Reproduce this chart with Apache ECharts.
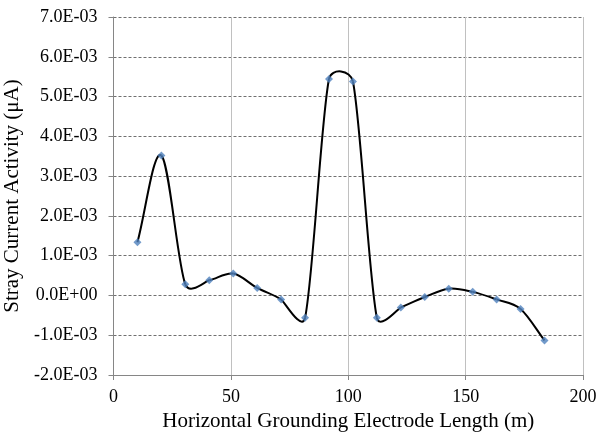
<!DOCTYPE html>
<html><head><meta charset="utf-8">
<script src="https://cdn.jsdelivr.net/npm/echarts@6/dist/echarts.min.js"></script>
<style>html,body{margin:0;padding:0;background:#fff}#c{width:597px;height:435px}</style>
</head><body><div id="c"></div>
<script>
const lengths = [10.2, 20.4, 30.6, 40.8, 51.0, 61.2, 71.4, 81.6, 91.8, 102.0, 112.2, 122.4, 132.6, 142.8, 153.0, 163.2, 173.4, 183.6];
const activity = [1.34e-3, 3.52e-3, 0.28e-3, 0.38e-3, 0.55e-3, 0.19e-3, -0.10e-3, -0.56e-3, 5.44e-3, 5.38e-3, -0.56e-3, -0.30e-3, -0.04e-3, 0.17e-3, 0.09e-3, -0.10e-3, -0.34e-3, -1.13e-3];
const xTicks = [0, 50, 100, 150, 200];
const xTitle = 'Horizontal Grounding Electrode Length (m)';
const yTitle = 'Stray Current Activity (μA)';

function fmt(v){
  v = Math.round(v*1e5)/1e5;
  let s = v.toExponential(1);
  let [m,e] = s.split('e');
  let sign = e[0]==='-' ? '-' : '+';
  let d = e.replace(/[+-]/,'');
  if (d.length<2) d = '0'+d;
  return m + 'E' + sign + d;
}
const pts = lengths.map((x,i)=>[x,activity[i]]);
function dist(a,b){return Math.hypot(a[0]-b[0],a[1]-b[1]);}
// Excel-style smoothed segment between point i and i+1 (in pixel space)
function renderSeg(params, api){
  const i = params.dataIndex;
  const n = pts.length;
  if (i >= n-1) return null;
  const p1 = api.coord(pts[i]);
  const p2 = api.coord(pts[i+1]);
  const p0 = i>0 ? api.coord(pts[i-1]) : p1;
  const p3 = i+2<n ? api.coord(pts[i+2]) : p2;
  const d12 = dist(p1,p2), d02 = dist(p0,p2), d13 = dist(p1,p3);
  let f, g;
  const eq = (a,b)=>a[0]===b[0]&&a[1]===b[1];
  if (d02/6 < d12/2 && d13/6 < d12/2) {
    f = eq(p0,p1) ? 1/3 : 1/6;
    g = eq(p2,p3) ? 1/3 : 1/6;
  } else if (d02/6 >= d12/2 && d13/6 >= d12/2) {
    f = d12/(2*d02); g = d12/(2*d13);
  } else if (d02/6 >= d12/2) {
    f = d12/(2*d02); g = d12/(2*d13)*(d13/d02);
  } else {
    f = d12/(2*d02)*(d02/d13); g = d12/(2*d13);
  }
  const c1 = [p1[0]+f*(p2[0]-p0[0]), p1[1]+f*(p2[1]-p0[1])];
  const c2 = [p2[0]-g*(p3[0]-p1[0]), p2[1]-g*(p3[1]-p1[1])];
  return {type:'bezierCurve',
    shape:{x1:p1[0],y1:p1[1],x2:p2[0],y2:p2[1],cpx1:c1[0],cpy1:c1[1],cpx2:c2[0],cpy2:c2[1]},
    style:{stroke:'#000',lineWidth:2,fill:null}};
}
const font = 'Liberation Serif, Times New Roman, serif';
const chart = echarts.init(document.getElementById('c'));
chart.setOption({
  animation:false,
  grid:{left:113.5,right:14,top:17,bottom:60,containLabel:false,outerBoundsMode:'none'},
  xAxis:{type:'value',min:xTicks[0],max:xTicks[xTicks.length-1],interval:50,
    name:xTitle,nameLocation:'middle',nameGap:36,
    nameTextStyle:{fontFamily:font,fontSize:21,color:'#000'},
    axisLine:{onZero:false,lineStyle:{color:'#868686',width:1}},
    axisTick:{show:true,length:5,lineStyle:{color:'#868686'}},
    axisLabel:{fontFamily:font,fontSize:18,color:'#000',margin:13},
    splitLine:{show:true,lineStyle:{color:'#c0c0c0',width:1}}},
  yAxis:{type:'value',min:-2e-3,max:7e-3,interval:1e-3,
    name:yTitle,nameLocation:'middle',nameGap:70,
    nameTextStyle:{fontFamily:font,fontSize:21,color:'#000'},
    axisLine:{show:true,lineStyle:{color:'#868686',width:1}},
    axisTick:{show:true,length:5,lineStyle:{color:'#868686'}},
    axisLabel:{fontFamily:font,fontSize:18,color:'#000',margin:16,formatter:fmt},
    splitLine:{show:true,lineStyle:{color:'#707070',type:[3,2],width:1}}},
  series:[
    {type:'custom',data:pts,renderItem:renderSeg,z:2,clip:true},
    {type:'scatter',data:pts,symbol:'diamond',symbolSize:8,z:3,
      itemStyle:{color:'#4F81BD'}}
  ]
});
</script></body></html>
